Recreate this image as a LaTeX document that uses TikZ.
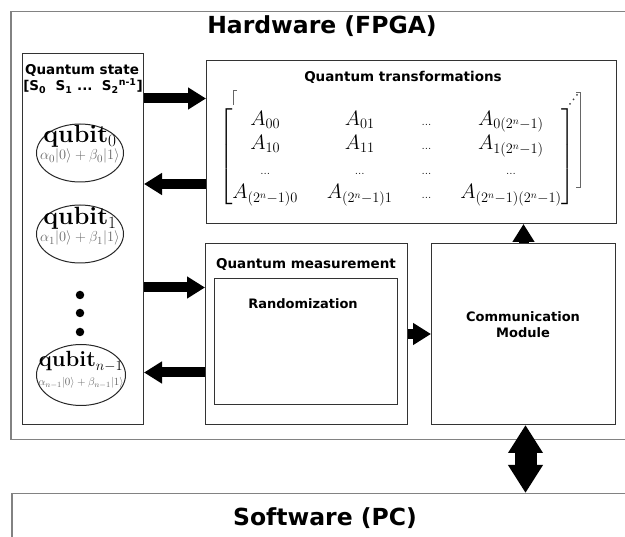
\documentclass[tikz,border=0pt]{standalone}
\usepackage{amsmath,amssymb}
\usepackage{fontspec}
\setsansfont{DejaVu Sans}
\usepackage{tikz}
\usetikzlibrary{arrows.meta, positioning, shapes.geometric}
\definecolor{FrameGray}{RGB}{130, 130, 130}
\definecolor{TermGray}{RGB}{105, 105, 105}
\newcommand{\mdots}{\text{\fontsize{12}{14}\selectfont...}}

\begin{document}
\begin{tikzpicture}[x=1pt, y=-1pt,
    outer/.style={draw=FrameGray, line width=1.5pt, inner sep=0pt, anchor=north west},
    block/.style={draw=black!80, line width=1pt, inner sep=0pt, anchor=north west},
    head/.style={font=\sffamily\bfseries\fontsize{23.5}{28}\selectfont, inner sep=0pt},
    title/.style={font=\sffamily\bfseries\fontsize{13.5}{16}\selectfont, align=center, inner sep=0pt},
    qubit/.style={ellipse, draw=black!85, line width=1pt, inner sep=0pt},
    qname/.style={font=\fontsize{25}{30}\selectfont, inner sep=0pt, anchor=base},
    qterm/.style={font=\fontsize{15.5}{18}\selectfont, text=TermGray, inner sep=0pt, anchor=base},
    dot/.style={circle, fill=black, inner sep=0pt, minimum size=8.5pt},
    fat/.style={line width=10pt, -{Triangle[length=18pt, width=21pt]}},
    wide/.style={line width=22pt, {Triangle[length=28pt, width=33pt]}-{Triangle[length=28pt, width=33pt]}}]
  \useasboundingbox (0,0) rectangle (625,537);
  \clip (0,0) rectangle (625,537);

  % FPGA and PC frames, both run off the right edge
  \node[outer, minimum width=640pt, minimum height=428pt] (hw) at (10,11) {};
  \node[outer, minimum width=640pt, minimum height=80pt] (sw) at (11,493) {};
  \node[head] (hwlabel) at (322,26) {Hardware (FPGA)};
  \node[head] (swlabel) at (325,518) {Software (PC)};

  % blocks
  \node[block, minimum width=121pt, minimum height=371pt] (state) at (22,53) {};
  \node[block, minimum width=410pt, minimum height=163pt] (trans) at (206,60) {};
  \node[block, minimum width=202pt, minimum height=181pt] (meas) at (205,243) {};
  \node[block, minimum width=183pt, minimum height=126pt] (rand) at (214,278) {};
  \node[block, minimum width=184pt, minimum height=181pt] (comm) at (431,243) {};

  \node[title, anchor=base] (statetitle) at (82,75) {Quantum state};
  \node[title, anchor=base] (statevec) at (83,91)
    {[S\textsubscript{0}\ \ S\textsubscript{1} ...\ \ S\textsubscript{2}\textsuperscript{n-1}]};
  \node[title, anchor=base] (transtitle) at (403,82) {Quantum transformations};
  \node[title, anchor=base] (meastitle) at (306,269) {Quantum measurement};
  \node[title, anchor=base, font=\sffamily\bfseries\fontsize{13}{16}\selectfont] (randtitle) at (303,309) {Randomization};
  \node[title, font=\sffamily\bfseries\fontsize{13}{16}\selectfont] (commtitle) at (523,325) {Communication\\Module};

  % unitary as a matrix
  \node[inner sep=0pt, font=\fontsize{20}{24.5}\selectfont] (mat) at (397,157) {%
    \setlength{\arraycolsep}{14.5pt}%
    $\begin{bmatrix}
      A_{00} & A_{01} & \mdots & A_{0(2^n-1)}\\
      A_{10} & A_{11} & \mdots & A_{1(2^n-1)}\\
      \mdots & \mdots & \mdots & \mdots\\
      A_{(2^n-1)0} & A_{(2^n-1)1} & \mdots & A_{(2^n-1)(2^n-1)}
    \end{bmatrix}$};
  \draw[line width=0.6pt, black!60] (237,90) -- (233,90) -- (233,105);
  \draw[line width=0.6pt, black!60] (576,92) -- (580,92) -- (580,187) -- (576,187);
  \foreach \x/\y in {570/104, 573.5/99.5, 577/95}
    \fill[black!75] (\x,\y) circle (1pt);

  % register of qubits
  \node[qubit, minimum width=87pt, minimum height=58pt] (q0) at (80,153) {};
  \node[qname] (q0name) at (80,143) {\textbf{qubit}$_0$};
  \node[qterm] (q0term) at (80,160) {$\alpha_0|0\rangle+\beta_0|1\rangle$};
  \node[qubit, minimum width=87pt, minimum height=58pt] (q1) at (80,234) {};
  \node[qname] (q1name) at (80,225) {\textbf{qubit}$_1$};
  \node[qterm] (q1term) at (80,242) {$\alpha_1|0\rangle+\beta_1|1\rangle$};
  \foreach \y [count=\i] in {295,313,332}
    \node[dot] (dot\i) at (80,\y) {};
  \node[qubit, minimum width=89pt, minimum height=61pt] (qn) at (81,375) {};
  \node[qname, font=\fontsize{22}{26}\selectfont] (qnname) at (81,367) {\textbf{qubit}$_{n-1}$};
  \node[qterm, font=\fontsize{11}{13}\selectfont] (qnterm) at (81,386) {$\alpha_{n-1}|0\rangle+\beta_{n-1}|1\rangle$};

  % data paths
  \draw[fat] ([yshift=43.5pt]state.east |- trans.west) -- ([yshift=43.5pt]trans.west);
  \draw[fat] ([yshift=-42pt]trans.west) -- ([yshift=-42pt]state.east |- trans.west);
  \draw[fat] ([yshift=46.5pt]state.east |- meas.west) -- ([yshift=46.5pt]meas.west);
  \draw[fat] ([yshift=-38.5pt]meas.west) -- ([yshift=-38.5pt]state.east |- meas.west);
  \draw[fat] (meas.east) -- (comm.west);
  \draw[fat] (comm.north) -- (comm.north |- trans.south);
  \draw[wide] ([xshift=2pt]comm.south) -- ([xshift=2pt]comm.south |- sw.north);
\end{tikzpicture}
\end{document}
